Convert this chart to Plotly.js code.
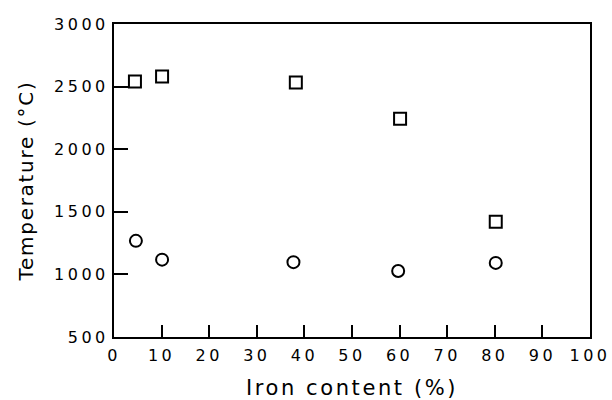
<!DOCTYPE html>
<html>
<head>
<meta charset="utf-8">
<script src="https://cdn.plot.ly/plotly-3.0.1.min.js"></script>
<style>
html,body{margin:0;padding:0;background:#fff;}
#chart{width:612px;height:400px;}
#chart .xtick text, #chart .ytick text{letter-spacing:3.5px;}
#chart .g-xtitle text{letter-spacing:2.6px;}
#chart .g-ytitle text{letter-spacing:1.7px;}
</style>
</head>
<body>
<div id="chart"></div>
<script>
const squareX = [4.4, 10.1, 38.2, 60.1, 80.2];
const squareY = [2540, 2580, 2532, 2244, 1421];
const circleX = [4.6, 10.1, 37.7, 59.7, 80.2];
const circleY = [1268, 1118, 1098, 1027, 1092];
const xTicks = [0, 10, 20, 30, 40, 50, 60, 70, 80, 90, 100];
const yTicks = [500, 1000, 1500, 2000, 2500, 3000];

const fontFam = 'DejaVu Sans, sans-serif';
const traces = [
  {x: squareX, y: squareY, type: 'scatter', mode: 'markers',
   marker: {symbol: 'square-open', size: 12, color: '#000', line: {width: 2, color: '#000'}}},
  {x: circleX, y: circleY, type: 'scatter', mode: 'markers',
   marker: {symbol: 'circle-open', size: 12, color: '#000', line: {width: 2, color: '#000'}}}
];
const layout = {
  width: 612, height: 400,
  margin: {l: 114, r: 22, t: 24, b: 63},
  showlegend: false,
  paper_bgcolor: '#fff', plot_bgcolor: '#fff',
  font: {family: fontFam, color: '#000', size: 16},
  xaxis: {
    range: [0, 100], tickvals: xTicks, ticktext: xTicks.map(String),
    ticks: 'inside', ticklen: 12, tickwidth: 2, tickcolor: '#000',
    showline: true, linewidth: 2, linecolor: '#000', mirror: true,
    showgrid: false, zeroline: false, automargin: false, ticklabelstandoff: 3,
    tickfont: {family: fontFam, size: 16, color: '#000'},
    title: {text: 'Iron content (%)', font: {family: fontFam, size: 21, color: '#000'}, standoff: 18}
  },
  yaxis: {
    range: [500, 3000], tickvals: yTicks, ticktext: yTicks.map(String),
    ticks: 'inside', ticklen: 14, tickwidth: 2, tickcolor: '#000',
    showline: true, linewidth: 2, linecolor: '#000', mirror: true,
    showgrid: false, zeroline: false, automargin: false,
    tickfont: {family: fontFam, size: 16, color: '#000'},
    title: {text: 'Temperature (°C)', font: {family: fontFam, size: 20, color: '#000'}, standoff: 29}
  }
};
Plotly.newPlot('chart', traces, layout, {displayModeBar: false, staticPlot: true});
</script>
</body>
</html>
